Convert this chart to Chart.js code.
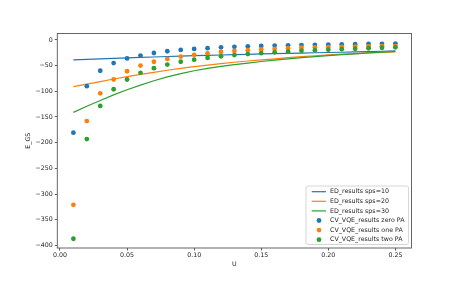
<!DOCTYPE html>
<html>
<head>
<meta charset="utf-8">
<script src="https://cdn.jsdelivr.net/npm/chart.js@4.4.0/dist/chart.umd.min.js"></script>
<style>
  html, body { margin: 0; padding: 0; background: #fff; }
  #wrap { width: 457px; height: 284px; }
</style>
</head>
<body>
<div id="wrap"><canvas id="gsChart"></canvas></div>
<script>
// U values (same grid for lines and points)
const uValues = [0.01, 0.02, 0.03, 0.04, 0.05, 0.06, 0.07, 0.08, 0.09, 0.10,
  0.11, 0.12, 0.13, 0.14, 0.15, 0.16, 0.17, 0.18, 0.19, 0.20,
  0.21, 0.22, 0.23, 0.24, 0.25];

// exact diagonalisation curves
const edSps10 = [-39, -38, -37, -36, -35, -34, -33.2, -32.3, -31.5, -30.7,
  -30, -29.3, -28.6, -28, -27.3, -26.7, -26.2, -25.6, -25, -24.5,
  -24, -23.3, -22.7, -22, -21.4];
const edSps20 = [-91, -86, -81, -76, -71.5, -67, -63, -59, -55.5, -52,
  -49, -46, -43.5, -41, -38.8, -36.7, -34.5, -32.5, -30.8, -29.2,
  -27.8, -26.5, -25.3, -24.2, -23.2];
const edSps30 = [-141, -129, -118, -107, -97, -88, -79.5, -72, -65.5, -60,
  -55.5, -51.5, -48, -45, -42, -39.5, -37, -34.5, -32.5, -30.5,
  -28.7, -27, -25.3, -23.8, -22.5];

// CV-VQE results
const vqeZeroPA = [-180.5, -90, -60, -45, -36, -30.5, -25.5, -22, -19.5, -17.5,
  -16, -14.5, -13.5, -12.5, -11.8, -11, -10.5, -10, -9.5, -9,
  -8.5, -8.2, -7.8, -7.5, -7.2];
const vqeOnePA = [-321, -158, -104, -77, -61, -50, -42.5, -37, -32.5, -29,
  -26, -23.5, -21.5, -20, -18.5, -17.5, -16, -15.2, -14.5, -14,
  -13.5, -13, -12.6, -12.3, -12];
const vqeTwoPA = [-387, -193, -128.5, -96, -77, -64, -55, -48, -42.5, -38.5,
  -35, -32, -29.5, -27.5, -25.8, -24.2, -22.8, -21, -20, -19,
  -18, -17.2, -16.2, -15.2, -14.5];

const xTicks = [0, 0.05, 0.10, 0.15, 0.20, 0.25];
const yTicks = [0, -50, -100, -150, -200, -250, -300, -350, -400];

const blue = "#1f77b4", orange = "#ff7f0e", green = "#2ca02c";
const font = { family: "DejaVu Sans", size: 6.3 };

function pts(ys) {
  return ys.map((y, i) => ({ x: uValues[i], y: y }));
}

function lineSet(label, ys, color, order) {
  return { label: label, data: pts(ys), showLine: true, borderColor: color,
    backgroundColor: color, borderWidth: 1.2, pointRadius: 0, tension: 0, order: order };
}

function dotSet(label, ys, color, order) {
  return { label: label, data: pts(ys), showLine: false, backgroundColor: color,
    borderWidth: 0, pointRadius: 2.4, order: order };
}

// box around the plot area, like matplotlib spines
const frame = {
  id: "frame",
  afterDatasetsDraw(chart) {
    const a = chart.chartArea, ctx = chart.ctx;
    ctx.save();
    ctx.strokeStyle = "#555";
    ctx.lineWidth = 0.9;
    ctx.strokeRect(a.left, a.top, a.right - a.left, a.bottom - a.top);
    ctx.restore();
  }
};

// legend in the lower right corner of the plot
const boxLegend = {
  id: "boxLegend",
  afterDraw(chart) {
    const a = chart.chartArea, ctx = chart.ctx;
    const w = 102.5, h = 58.5;
    const x0 = a.right - 3 - w, y0 = a.bottom - 3.5 - h;
    ctx.save();
    ctx.fillStyle = "rgba(255,255,255,0.8)";
    ctx.strokeStyle = "#cccccc";
    ctx.lineWidth = 0.8;
    ctx.beginPath();
    ctx.roundRect(x0, y0, w, h, 2);
    ctx.fill();
    ctx.stroke();
    ctx.font = font.size + 'px "DejaVu Sans"';
    ctx.textBaseline = "middle";
    chart.data.datasets.forEach((ds, i) => {
      const y = y0 + 5.7 + i * 9.6;
      if (ds.showLine) {
        ctx.strokeStyle = ds.borderColor;
        ctx.lineWidth = 1.2;
        ctx.beginPath();
        ctx.moveTo(x0 + 5.7, y);
        ctx.lineTo(x0 + 20, y);
        ctx.stroke();
      } else {
        ctx.fillStyle = ds.backgroundColor;
        ctx.beginPath();
        ctx.arc(x0 + 13, y, 2.4, 0, Math.PI * 2);
        ctx.fill();
      }
      ctx.fillStyle = "#222";
      ctx.fillText(ds.label, x0 + 24, y);
    });
    ctx.restore();
  }
};

document.addEventListener("DOMContentLoaded", function () {
  const ctx = document.getElementById("gsChart").getContext("2d");

  new Chart(ctx, {
    type: "scatter",
    data: {
      datasets: [
        lineSet("ED_results sps=10", edSps10, blue, 5),
        lineSet("ED_results sps=20", edSps20, orange, 4),
        lineSet("ED_results sps=30", edSps30, green, 3),
        dotSet("CV_VQE_results zero PA", vqeZeroPA, blue, 2),
        dotSet("CV_VQE_results one PA", vqeOnePA, orange, 1),
        dotSet("CV_VQE_results two PA", vqeTwoPA, green, 0)
      ]
    },
    options: {
      responsive: true,
      maintainAspectRatio: false,
      animation: false,
      layout: { padding: { left: 0, right: 45.5, top: 33.5, bottom: 16 } },
      plugins: {
        legend: { display: false },
        tooltip: { enabled: false }
      },
      scales: {
        x: {
          type: "linear",
          min: -0.002,
          max: 0.262,
          afterBuildTicks: (s) => { s.ticks = xTicks.map(v => ({ value: v })); },
          afterFit: (s) => { s.height = 20; },
          grid: { drawOnChartArea: false, tickLength: 2.5, tickColor: "#333", lineWidth: 0.8 },
          border: { display: false },
          ticks: { font: font, color: "#222", padding: 1.5, maxRotation: 0,
            callback: (v) => v.toFixed(2) },
          title: { display: true, text: "U", font: font, color: "#222", padding: 0 }
        },
        y: {
          type: "linear",
          min: -405,
          max: 12.5,
          afterBuildTicks: (s) => { s.ticks = yTicks.map(v => ({ value: v })); },
          afterFit: (s) => { s.width = 57.3; },
          grid: { drawOnChartArea: false, tickLength: 2.5, tickColor: "#333", lineWidth: 0.8 },
          border: { display: false },
          ticks: { font: font, color: "#222", padding: 2,
            callback: (v) => (v < 0 ? "\u2212" + Math.abs(v) : String(v)) },
          title: { display: true, text: "E_GS", font: font, color: "#222",
            padding: { top: 25, bottom: 0 } }
        }
      }
    },
    plugins: [frame, boxLegend]
  });
});
</script>
</body>
</html>
